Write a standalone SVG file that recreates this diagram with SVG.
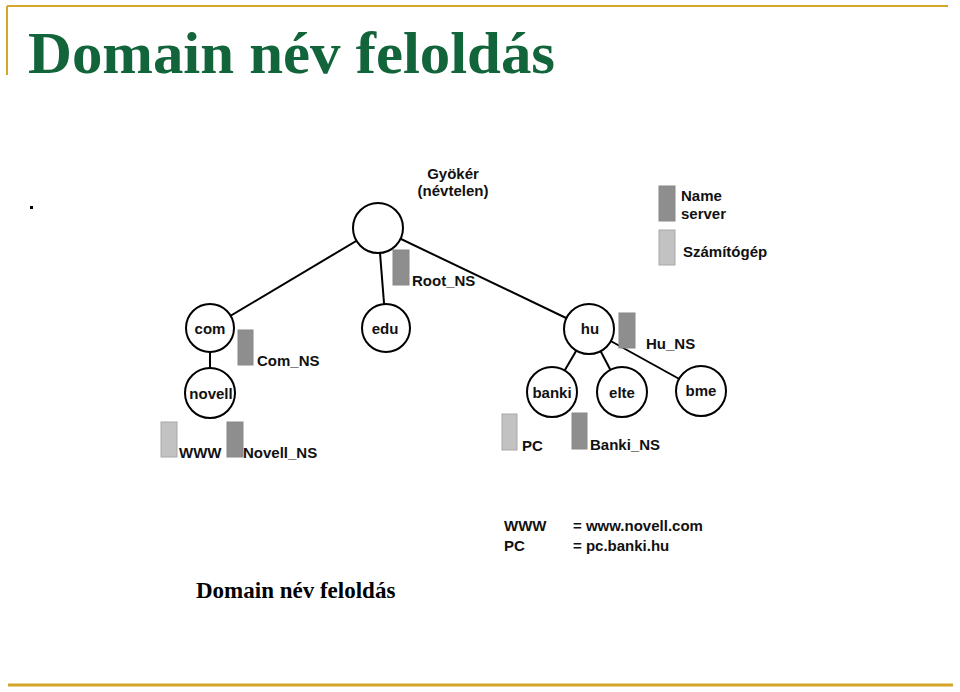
<svg xmlns="http://www.w3.org/2000/svg" width="960" height="692" viewBox="0 0 960 692">
<style>
.frame{stroke:#D4A52A;fill:none}
.title{font-family:"Liberation Serif",serif;font-weight:bold;fill:#12643A}
.caption{font-family:"Liberation Serif",serif;font-weight:bold;fill:#000}
.lbl{font-family:"Liberation Sans",Arial,sans-serif;font-weight:bold;font-size:15px;fill:#111}
.mid{text-anchor:middle}
.node{fill:#fff;stroke:#000;stroke-width:2}
.edge{stroke:#000;stroke-width:2;fill:none}
.ns{fill:#8E8E8E;stroke:#888;stroke-width:1}
.pc{fill:#C2C2C2;stroke:#A8A8A8;stroke-width:1}
</style>
<rect width="960" height="692" fill="#fff"/>
<line class="frame" x1="7" y1="6" x2="948" y2="6" stroke-width="2"/>
<line class="frame" x1="7" y1="6" x2="7" y2="75" stroke-width="2"/>
<line class="frame" x1="8" y1="685" x2="953" y2="685" stroke-width="3"/>
<text class="title" x="28" y="73" font-size="60" textLength="527" lengthAdjust="spacingAndGlyphs">Domain név feloldás</text>
<rect x="30" y="206" width="3" height="3" fill="#000"/>
<g id="connectors">
<line class="edge" x1="378" y1="228" x2="210" y2="328"/>
<line class="edge" x1="378" y1="228" x2="386" y2="328"/>
<line class="edge" x1="378" y1="228" x2="589" y2="329"/>
<line class="edge" x1="210" y1="328" x2="210" y2="393"/>
<line class="edge" x1="589" y1="329" x2="552" y2="392"/>
<line class="edge" x1="589" y1="329" x2="622" y2="392"/>
<line class="edge" x1="589" y1="329" x2="701" y2="391"/>
</g>
<g id="root">
<circle class="node" cx="378" cy="228" r="25"/>
<text class="lbl mid" x="453" y="179">Gyökér</text>
<text class="lbl mid" x="453" y="196">(névtelen)</text>
</g>
<g id="root_ns">
<rect class="ns" x="393" y="250" width="16" height="35"/>
<text class="lbl" x="412" y="286">Root_NS</text>
</g>
<g id="com">
<circle class="node" cx="210" cy="328" r="24"/>
<text class="lbl mid" x="210" y="334">com</text>
</g>
<g id="com_ns">
<rect class="ns" x="238" y="330" width="15" height="35"/>
<text class="lbl" x="257" y="366">Com_NS</text>
</g>
<g id="edu">
<circle class="node" cx="386" cy="328" r="24"/>
<text class="lbl mid" x="385" y="334">edu</text>
</g>
<g id="hu">
<circle class="node" cx="589" cy="329" r="25"/>
<text class="lbl mid" x="590" y="334">hu</text>
</g>
<g id="hu_ns">
<rect class="ns" x="619" y="313" width="16" height="35"/>
<text class="lbl" x="646" y="349">Hu_NS</text>
</g>
<g id="novell">
<circle class="node" cx="210" cy="393" r="25"/>
<text class="lbl mid" x="211" y="399">novell</text>
</g>
<g id="banki">
<circle class="node" cx="552" cy="392" r="25"/>
<text class="lbl mid" x="552" y="398">banki</text>
</g>
<g id="elte">
<circle class="node" cx="622" cy="392" r="25"/>
<text class="lbl mid" x="622" y="398">elte</text>
</g>
<g id="bme">
<circle class="node" cx="701" cy="391" r="25"/>
<text class="lbl mid" x="701" y="396">bme</text>
</g>
<g id="www">
<rect class="pc" x="161" y="422" width="16" height="35"/>
<text class="lbl" x="179" y="458">WWW</text>
</g>
<g id="novell_ns">
<rect class="ns" x="227" y="422" width="16" height="35"/>
<text class="lbl" x="243" y="458">Novell_NS</text>
</g>
<g id="pc">
<rect class="pc" x="502" y="414" width="15" height="36"/>
<text class="lbl" x="522" y="451">PC</text>
</g>
<g id="banki_ns">
<rect class="ns" x="572" y="413" width="15" height="36"/>
<text class="lbl" x="590" y="450">Banki_NS</text>
</g>
<g id="legend">
<rect class="ns" x="659" y="186" width="16" height="35"/>
<text class="lbl" x="681" y="201">Name</text>
<text class="lbl" x="681" y="219">server</text>
<rect class="pc" x="659" y="230" width="16" height="35"/>
<text class="lbl" x="683" y="257">Számítógép</text>
</g>
<g id="notes">
<text class="lbl" x="504" y="531">WWW</text>
<text class="lbl" x="573" y="531">= www.novell.com</text>
<text class="lbl" x="504" y="551">PC</text>
<text class="lbl" x="573" y="551">= pc.banki.hu</text>
</g>
<text class="caption" x="196" y="598" font-size="23">Domain név feloldás</text>
</svg>
